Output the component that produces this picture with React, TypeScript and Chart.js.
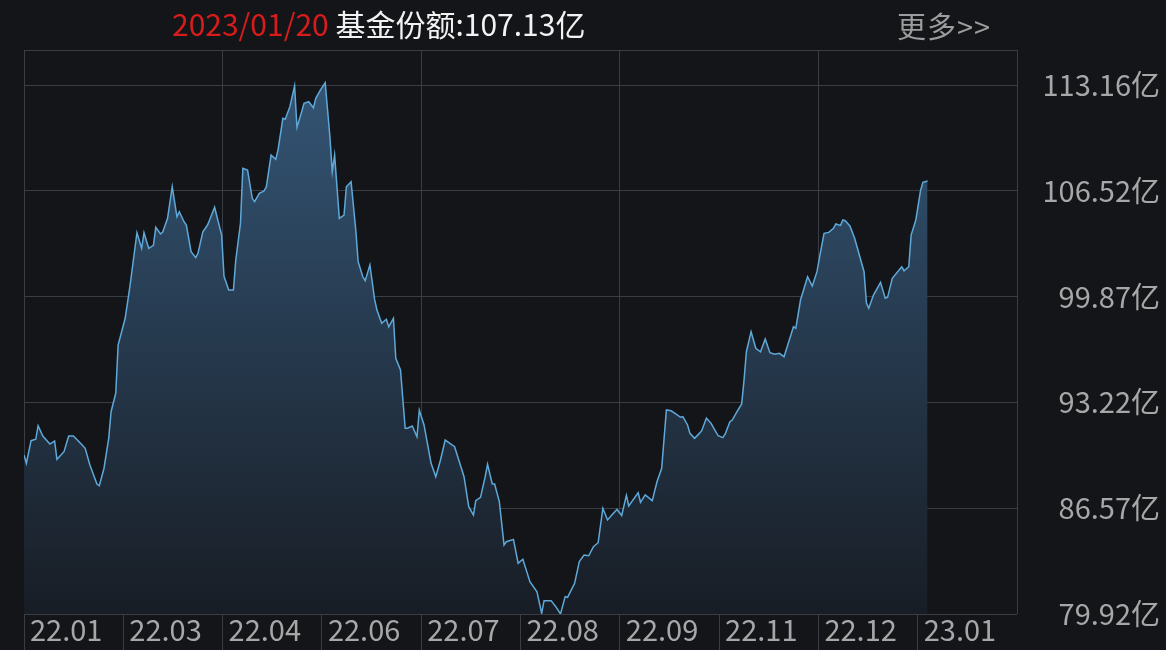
import React, { useEffect, useRef } from 'react';
import { Chart, registerables } from 'chart.js';

Chart.register(...registerables);

// days since 2022-01-01, fund share in 亿
const tradeDays = [
  0, 1, 3, 5, 6, 8, 11, 13, 14, 17, 19, 21, 24, 26, 28, 31, 32, 34, 36, 37,
  39, 40, 43, 45, 48, 50, 51, 53, 55, 56, 58, 59, 61, 63, 65, 66, 68, 69, 71, 73,
  74, 76, 78, 79, 81, 84, 85, 87, 89, 90, 92, 93, 95, 97, 98, 100, 102, 103, 105, 107,
  108, 110, 111, 113, 115, 116, 118, 119, 121, 123, 124, 126, 128, 130, 131, 132, 134, 136, 137, 139,
  141, 142, 144, 145, 147, 149, 150, 152, 154, 155, 157, 158, 160, 162, 163, 165, 167, 168, 170, 173,
  175, 177, 179, 183, 185, 187, 189, 191, 192, 194, 196, 197, 199, 200, 202, 204, 205, 208, 210, 212,
  215, 218, 220, 221, 224, 226, 228, 230, 231, 234, 236, 238, 240, 242, 244, 246, 248, 250, 252, 254,
  256, 257, 261, 262, 264, 267, 269, 271, 273, 275, 277, 279, 280, 282, 283, 285, 287, 288, 290, 292,
  293, 295, 297, 298, 300, 301, 303, 305, 306, 307, 309, 311, 313, 315, 317, 319, 321, 323, 325, 327,
  328, 330, 333, 335, 337, 338, 340, 342, 344, 345, 347, 348, 349, 351, 353, 357, 358, 359, 361, 364,
  366, 367, 369, 373, 374, 376, 377, 379, 381, 382, 384,
];

const shares = [
  89.91, 89.39, 90.81, 90.9, 91.75, 91.1, 90.6, 90.79, 89.64, 90.12, 91.1, 91.1, 90.65, 90.33, 89.28, 88.09, 87.98, 89.08, 90.96, 92.63,
  93.79, 96.82, 98.5, 100.49, 103.88, 102.9, 103.88, 102.9, 103.09, 104.22, 103.8, 103.94, 104.78, 106.77, 104.88, 105.2, 104.57, 104.36, 102.69, 102.31,
  102.62, 103.94, 104.36, 104.72, 105.48, 103.73, 101.14, 100.28, 100.28, 102.16, 104.47, 107.93, 107.82, 106.04, 105.83, 106.35, 106.5, 106.77, 108.76, 108.49,
  109.12, 111.07, 111.01, 111.8, 113.1, 110.5, 111.48, 112.01, 112.11, 111.73, 112.32, 112.85, 113.3, 109.91, 107.71, 108.76, 104.78, 104.99, 106.77, 107.08,
  104.05, 102.06, 101.11, 100.86, 101.85, 99.69, 99.02, 98.19, 98.44, 97.97, 98.5, 95.99, 95.25, 91.59, 91.59, 91.73, 91.06, 92.72, 91.8, 89.39,
  88.55, 89.6, 90.85, 90.43, 89.49, 88.55, 86.66, 86.14, 87.04, 87.25, 88.55, 89.33, 88.09, 88.09, 86.98, 84.26, 84.46, 84.61, 83.11, 83.36,
  81.95, 81.32, 79.96, 80.76, 80.76, 80.38, 79.92, 81.01, 80.97, 81.85, 83.21, 83.63, 83.58, 84.15, 84.4, 86.56, 85.83, 86.17, 86.49, 86.11,
  87.38, 86.71, 87.54, 86.94, 87.4, 87.04, 88.23, 89.08, 92.74, 92.69, 92.49, 92.28, 92.32, 91.8, 91.27, 90.96, 91.27, 91.44, 92.22, 91.9,
  91.63, 91.12, 91.0, 91.23, 92.0, 92.11, 92.63, 93.12, 94.62, 96.4, 97.66, 96.62, 96.4, 97.2, 96.34, 96.24, 96.3, 96.09, 97.03, 97.97,
  97.87, 99.65, 101.11, 100.53, 101.43, 102.27, 103.84, 103.9, 104.16, 104.43, 104.34, 104.68, 104.63, 104.3, 103.53, 101.43, 99.48, 99.13, 99.96, 100.76,
  99.76, 99.82, 101.01, 101.74, 101.49, 101.74, 103.73, 104.68, 106.52, 107.05, 107.13,
];

const monthLabels = ['22.01', '22.03', '22.04', '22.06', '22.07', '22.08', '22.09', '22.11', '22.12', '23.01'];
const yTickValues = [79.92, 86.57, 93.22, 99.87, 106.52, 113.16];
const Y_MAX = 115.36;
const X_MAX = 422;

const BG = '#131519';
const GRID = '#3a3d43';
const LABEL = '#a7a7a7';
const FONT = '"Noto Sans CJK SC", "Noto Sans", sans-serif';

export default function App() {
  const canvasRef = useRef<HTMLCanvasElement>(null);

  useEffect(() => {
    if (!canvasRef.current) return;
    const chart = new Chart(canvasRef.current, {
      type: 'line',
      data: {
        datasets: [
          {
            data: tradeDays.map((d, i) => ({ x: d, y: shares[i] })),
            borderColor: '#5fa9da',
            borderWidth: 1.5,
            pointRadius: 0,
            tension: 0,
            fill: 'start',
            backgroundColor: (c: any) => {
              const area = c.chart.chartArea;
              if (!area) return 'transparent';
              const g = c.chart.ctx.createLinearGradient(0, area.top, 0, area.bottom);
              g.addColorStop(0, '#355879');
              g.addColorStop(1, '#181d25');
              return g;
            },
          },
        ],
      },
      options: {
        animation: false,
        responsive: true,
        maintainAspectRatio: false,
        layout: { padding: { left: 24, top: 50, right: 6, bottom: 0 } },
        plugins: { legend: { display: false }, tooltip: { enabled: false } },
        scales: {
          x: {
            type: 'linear',
            min: 0,
            max: X_MAX,
            afterBuildTicks: (scale: any) => {
              scale.ticks = Array.from({ length: 11 }, (_, k) => ({ value: (k * X_MAX) / 10 }));
            },
            afterFit: (scale: any) => {
              scale.height = 36;
              scale.paddingLeft = 0;
              scale.paddingRight = 0;
            },
            grid: {
              color: (c: any) => (c.index % 2 === 0 ? GRID : 'transparent'),
              tickColor: (c: any) => (c.index < 10 ? GRID : 'transparent'),
              tickLength: 36,
            },
            border: { display: false },
            ticks: {
              autoSkip: false,
              maxRotation: 0,
              align: 'start',
              labelOffset: 6,
              padding: -37,
              color: LABEL,
              font: { family: FONT, size: 29 },
              callback: (_v: any, i: number) => monthLabels[i] ?? '',
            },
          },
          y: {
            position: 'right',
            min: 79.92,
            max: Y_MAX,
            afterBuildTicks: (scale: any) => {
              scale.ticks = [...yTickValues, Y_MAX].map((v) => ({ value: v }));
            },
            afterFit: (scale: any) => {
              scale.width = 143;
              scale.paddingTop = 0;
              scale.paddingBottom = 0;
            },
            grid: { color: GRID, drawTicks: false },
            border: { display: false },
            ticks: {
              crossAlign: 'far',
              padding: 24,
              color: LABEL,
              font: { family: FONT, size: 29 },
              callback: (v: any) => (yTickValues.includes(v) ? Number(v).toFixed(2) + '亿' : ''),
            },
          },
        },
      },
    } as any);
    return () => chart.destroy();
  }, []);

  return (
    <div
      style={{
        position: 'fixed',
        left: 0,
        top: 0,
        width: 1166,
        height: 650,
        background: BG,
        overflow: 'hidden',
        fontFamily: FONT,
      }}
    >
      <div style={{ position: 'absolute', left: 0, top: 0, width: 1166, height: 650 }}>
        <canvas ref={canvasRef} />
      </div>
      <div
        style={{
          position: 'absolute',
          left: 172,
          top: 7,
          fontSize: 30,
          lineHeight: '32px',
          whiteSpace: 'nowrap',
          color: '#f2f2f2',
        }}
      >
        <span style={{ color: '#d81c1c' }}>2023/01/20</span> 基金份额:107.13亿
      </div>
      <div
        style={{
          position: 'absolute',
          left: 897,
          top: 9,
          fontSize: 29,
          lineHeight: '32px',
          whiteSpace: 'nowrap',
          letterSpacing: 1,
          color: '#9d9d9d',
        }}
      >
        更多&gt;&gt;
      </div>
    </div>
  );
}
